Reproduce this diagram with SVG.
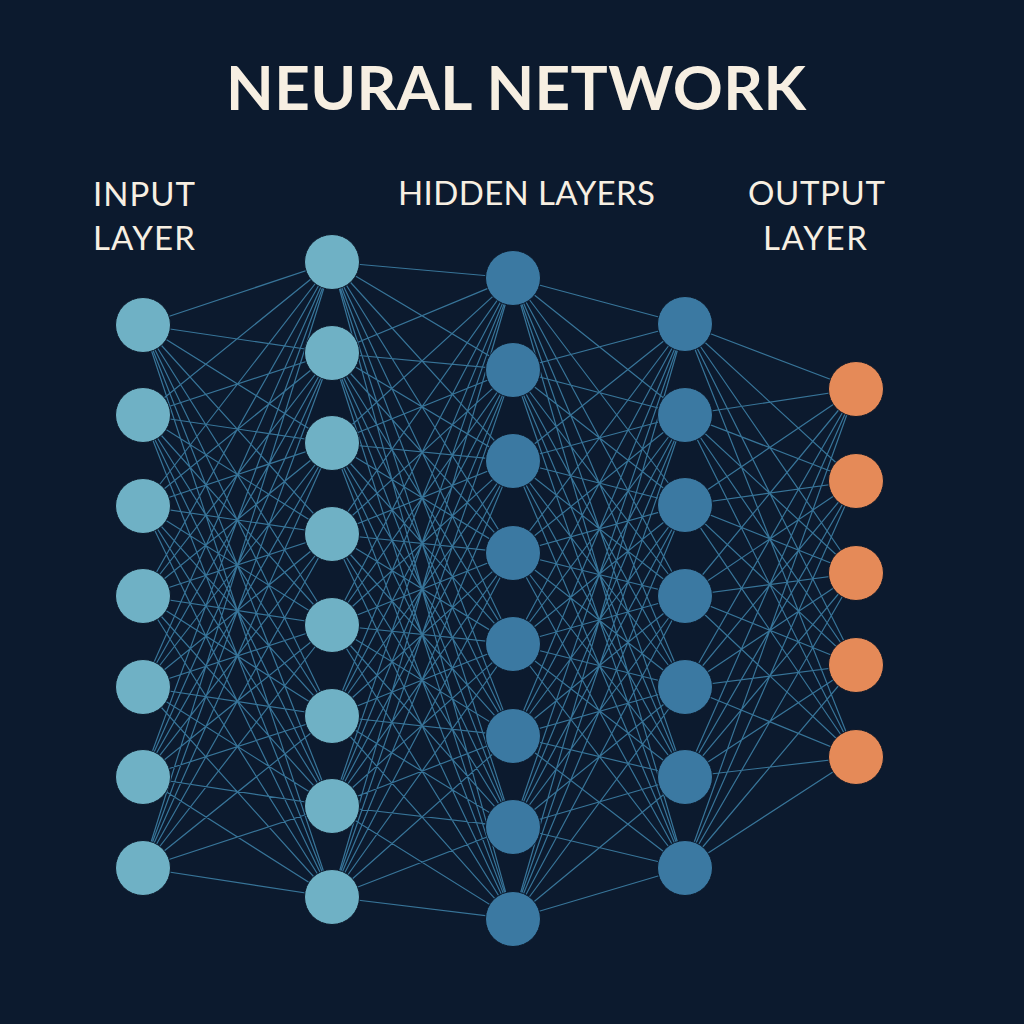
<svg xmlns="http://www.w3.org/2000/svg" width="1024" height="1024" viewBox="0 0 1024 1024">
<style>
.edge{fill:none;stroke:#3f85ab;stroke-width:1.2;opacity:0.85}
.n1{fill:#6fb1c5;stroke:#0b1729;stroke-width:1}
.n3{fill:#3b79a2;stroke:#0b1729;stroke-width:1}
.n5{fill:#e58a58;stroke:#0b1729;stroke-width:1}
.title{font-family:Lato,"Open Sans","Liberation Sans",sans-serif;font-weight:700;font-size:62px;fill:#f7efe2}
.lbl{font-family:Lato,"Open Sans","Liberation Sans",sans-serif;font-weight:400;font-size:33px;fill:#f7efe2}
</style>
<rect width="1024" height="1024" fill="#0c1a2e"/>
<g id="texts">
<text class="title" x="226" y="110" textLength="580" lengthAdjust="spacing">NEURAL NETWORK</text>
<text class="lbl" x="93" y="206" textLength="102" lengthAdjust="spacing">INPUT</text>
<text class="lbl" x="93" y="250" textLength="102" lengthAdjust="spacing">LAYER</text>
<text class="lbl" x="398" y="205" textLength="257" lengthAdjust="spacing">HIDDEN LAYERS</text>
<text class="lbl" x="748" y="205" textLength="137" lengthAdjust="spacing">OUTPUT</text>
<text class="lbl" x="763" y="250" textLength="104" lengthAdjust="spacing">LAYER</text>
</g>
<g id="connectors">
<path class="edge" d="M332 262L143 325L332 353M332 443L143 325L332 534M332 625L143 325L332 716M332 806L143 325L332 897
M332 262L143 415L332 353M332 443L143 415L332 534M332 625L143 415L332 716M332 806L143 415L332 897
M332 262L143 506L332 353M332 443L143 506L332 534M332 625L143 506L332 716M332 806L143 506L332 897
M332 262L143 596L332 353M332 443L143 596L332 534M332 625L143 596L332 716M332 806L143 596L332 897
M332 262L143 687L332 353M332 443L143 687L332 534M332 625L143 687L332 716M332 806L143 687L332 897
M332 262L143 777L332 353M332 443L143 777L332 534M332 625L143 777L332 716M332 806L143 777L332 897
M332 262L143 868L332 353M332 443L143 868L332 534M332 625L143 868L332 716M332 806L143 868L332 897"/>
<path class="edge" d="M513 278L332 262L513 370M513 461L332 262L513 553M513 644L332 262L513 736M513 827L332 262L513 919
M513 278L332 353L513 370M513 461L332 353L513 553M513 644L332 353L513 736M513 827L332 353L513 919
M513 278L332 443L513 370M513 461L332 443L513 553M513 644L332 443L513 736M513 827L332 443L513 919
M513 278L332 534L513 370M513 461L332 534L513 553M513 644L332 534L513 736M513 827L332 534L513 919
M513 278L332 625L513 370M513 461L332 625L513 553M513 644L332 625L513 736M513 827L332 625L513 919
M513 278L332 716L513 370M513 461L332 716L513 553M513 644L332 716L513 736M513 827L332 716L513 919
M513 278L332 806L513 370M513 461L332 806L513 553M513 644L332 806L513 736M513 827L332 806L513 919
M513 278L332 897L513 370M513 461L332 897L513 553M513 644L332 897L513 736M513 827L332 897L513 919"/>
<path class="edge" d="M685 324L513 278L685 415M685 505L513 278L685 596M685 687L513 278L685 777M513 278L685 868
M685 324L513 370L685 415M685 505L513 370L685 596M685 687L513 370L685 777M513 370L685 868
M685 324L513 461L685 415M685 505L513 461L685 596M685 687L513 461L685 777M513 461L685 868
M685 324L513 553L685 415M685 505L513 553L685 596M685 687L513 553L685 777M513 553L685 868
M685 324L513 644L685 415M685 505L513 644L685 596M685 687L513 644L685 777M513 644L685 868
M685 324L513 736L685 415M685 505L513 736L685 596M685 687L513 736L685 777M513 736L685 868
M685 324L513 827L685 415M685 505L513 827L685 596M685 687L513 827L685 777M513 827L685 868
M685 324L513 919L685 415M685 505L513 919L685 596M685 687L513 919L685 777M513 919L685 868"/>
<path class="edge" d="M856 389L685 324L856 481M856 573L685 324L856 665M685 324L856 757
M856 389L685 415L856 481M856 573L685 415L856 665M685 415L856 757
M856 389L685 505L856 481M856 573L685 505L856 665M685 505L856 757
M856 389L685 596L856 481M856 573L685 596L856 665M685 596L856 757
M856 389L685 687L856 481M856 573L685 687L856 665M685 687L856 757
M856 389L685 777L856 481M856 573L685 777L856 665M685 777L856 757
M856 389L685 868L856 481M856 573L685 868L856 665M685 868L856 757"/>
</g>
<g id="input-layer">
<g id="in1"><circle class="n1" cx="143" cy="325" r="27.5"/></g>
<g id="in2"><circle class="n1" cx="143" cy="415" r="27.5"/></g>
<g id="in3"><circle class="n1" cx="143" cy="506" r="27.5"/></g>
<g id="in4"><circle class="n1" cx="143" cy="596" r="27.5"/></g>
<g id="in5"><circle class="n1" cx="143" cy="687" r="27.5"/></g>
<g id="in6"><circle class="n1" cx="143" cy="777" r="27.5"/></g>
<g id="in7"><circle class="n1" cx="143" cy="868" r="27.5"/></g>
</g>
<g id="hidden-layer-1">
<g id="h1n1"><circle class="n1" cx="332" cy="262" r="27.5"/></g>
<g id="h1n2"><circle class="n1" cx="332" cy="353" r="27.5"/></g>
<g id="h1n3"><circle class="n1" cx="332" cy="443" r="27.5"/></g>
<g id="h1n4"><circle class="n1" cx="332" cy="534" r="27.5"/></g>
<g id="h1n5"><circle class="n1" cx="332" cy="625" r="27.5"/></g>
<g id="h1n6"><circle class="n1" cx="332" cy="716" r="27.5"/></g>
<g id="h1n7"><circle class="n1" cx="332" cy="806" r="27.5"/></g>
<g id="h1n8"><circle class="n1" cx="332" cy="897" r="27.5"/></g>
</g>
<g id="hidden-layer-2">
<g id="h2n1"><circle class="n3" cx="513" cy="278" r="27.5"/></g>
<g id="h2n2"><circle class="n3" cx="513" cy="370" r="27.5"/></g>
<g id="h2n3"><circle class="n3" cx="513" cy="461" r="27.5"/></g>
<g id="h2n4"><circle class="n3" cx="513" cy="553" r="27.5"/></g>
<g id="h2n5"><circle class="n3" cx="513" cy="644" r="27.5"/></g>
<g id="h2n6"><circle class="n3" cx="513" cy="736" r="27.5"/></g>
<g id="h2n7"><circle class="n3" cx="513" cy="827" r="27.5"/></g>
<g id="h2n8"><circle class="n3" cx="513" cy="919" r="27.5"/></g>
</g>
<g id="hidden-layer-3">
<g id="h3n1"><circle class="n3" cx="685" cy="324" r="27.5"/></g>
<g id="h3n2"><circle class="n3" cx="685" cy="415" r="27.5"/></g>
<g id="h3n3"><circle class="n3" cx="685" cy="505" r="27.5"/></g>
<g id="h3n4"><circle class="n3" cx="685" cy="596" r="27.5"/></g>
<g id="h3n5"><circle class="n3" cx="685" cy="687" r="27.5"/></g>
<g id="h3n6"><circle class="n3" cx="685" cy="777" r="27.5"/></g>
<g id="h3n7"><circle class="n3" cx="685" cy="868" r="27.5"/></g>
</g>
<g id="output-layer">
<g id="out1"><circle class="n5" cx="856" cy="389" r="27.5"/></g>
<g id="out2"><circle class="n5" cx="856" cy="481" r="27.5"/></g>
<g id="out3"><circle class="n5" cx="856" cy="573" r="27.5"/></g>
<g id="out4"><circle class="n5" cx="856" cy="665" r="27.5"/></g>
<g id="out5"><circle class="n5" cx="856" cy="757" r="27.5"/></g>
</g>
</svg>
